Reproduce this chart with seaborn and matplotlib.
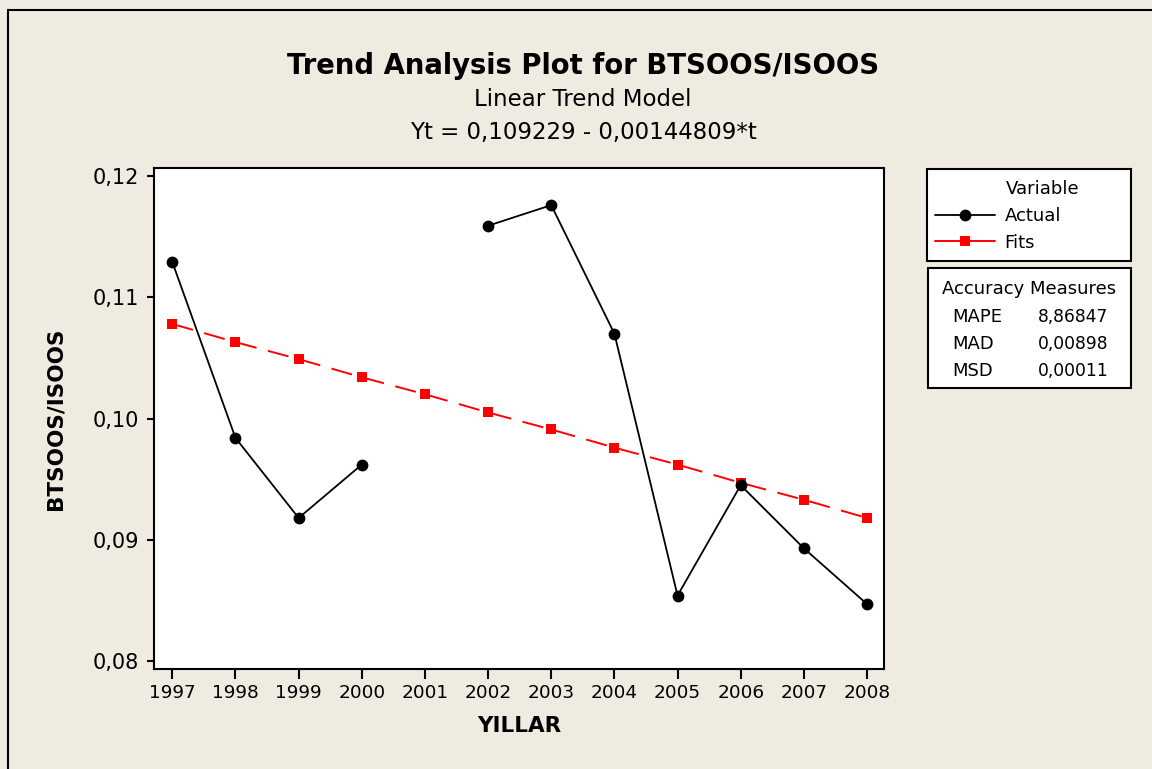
import numpy as np
import pandas as pd
import matplotlib
matplotlib.use('Agg')
import matplotlib.pyplot as plt
import seaborn as sns
from matplotlib.lines import Line2D
from matplotlib.patches import Rectangle

# values
years = [1997, 1998, 1999, 2000, 2001, 2002, 2003, 2004, 2005, 2006, 2007, 2008]
actual = [0.1129, 0.0984, 0.0918, 0.0962, np.nan, 0.1159, 0.1176, 0.1070,
          0.0854, 0.0945, 0.0893, 0.0847]
fits = [0.1078, 0.1063, 0.1049, 0.1034, 0.1020, 0.1005, 0.0991, 0.0976,
        0.0962, 0.0947, 0.0933, 0.0918]
y_ticks = [0.08, 0.09, 0.10, 0.11, 0.12]
y_ticklabels = ['0,08', '0,09', '0,10', '0,11', '0,12']
acc_names = ['MAPE', 'MAD', 'MSD']
acc_values = ['8,86847', '0,00898', '0,00011']

bg = '#EFEBE1'

sns.set_style('white')
plt.rcParams['font.family'] = ['DejaVu Sans']
plt.rcParams['text.color'] = 'black'
plt.rcParams['axes.labelcolor'] = 'black'
plt.rcParams['xtick.color'] = 'black'
plt.rcParams['ytick.color'] = 'black'

df = pd.DataFrame({'year': years, 'actual': actual, 'fits': fits})
# break the actual line where a value is missing
df['seg'] = df['actual'].isna().cumsum()
act = df.dropna(subset=['actual'])

fig = plt.figure(figsize=(11.52, 7.69), dpi=100, facecolor=bg)
ax = fig.add_axes([0.1337, 0.13, 0.6337, 0.6515])
ax.set_facecolor('white')

sns.lineplot(data=df, x='year', y='fits', ax=ax, color='red', lw=1.4,
             marker='s', markersize=7, markeredgewidth=0,
             dashes=False, linestyle=(0, (11, 6)), legend=False)
sns.lineplot(data=act, x='year', y='actual', units='seg', estimator=None,
             ax=ax, color='black', lw=1.3, marker='o', markersize=8.5,
             markeredgewidth=0, legend=False)

ax.set_xlim(1996.71, 2008.27)
ax.set_ylim(0.07934, 0.12066)
ax.set_xticks(years)
ax.set_xticklabels([str(y) for y in years], fontsize=13.3)
ax.set_yticks(y_ticks)
ax.set_yticklabels(y_ticklabels, fontsize=15)
ax.tick_params(axis='x', direction='out', length=7, width=1.5, pad=4)
ax.tick_params(axis='y', direction='out', length=5, width=1.5, pad=6)
ax.tick_params(bottom=True, left=True)
for s in ax.spines.values():
    s.set_color('black')
    s.set_linewidth(1.5)

ax.set_xlabel('YILLAR', fontsize=15.5, fontweight='bold', labelpad=10)
ax.set_ylabel('BTSOOS/ISOOS', fontsize=15.5, fontweight='bold', labelpad=19)

fig.text(0.506, 0.914, 'Trend Analysis Plot for BTSOOS/ISOOS',
         ha='center', va='center', fontsize=19.8, fontweight='bold')
fig.text(0.506, 0.871, 'Linear Trend Model', ha='center', va='center', fontsize=16.5)
fig.text(0.506, 0.828, 'Yt = 0,109229 - 0,00144809*t', ha='center', va='center', fontsize=16.5)

# outer frame (left and top edges)
fig.add_artist(Line2D([8 / 1152, 8 / 1152], [0, 1 - 10 / 769], color='black', lw=1.5,
                      transform=fig.transFigure))
fig.add_artist(Line2D([8 / 1152, 1], [1 - 10 / 769, 1 - 10 / 769], color='black', lw=1.5,
                      transform=fig.transFigure))

# legend box
lx0, lx1 = 927 / 1152, 1131 / 1152
ly0, ly1 = 1 - 261 / 769, 1 - 169 / 769
fig.add_artist(Rectangle((lx0, ly0), lx1 - lx0, ly1 - ly0, transform=fig.transFigure,
                         facecolor='white', edgecolor='black', lw=1.5))
fig.text(1006 / 1152, 1 - 189 / 769, 'Variable', ha='left', va='center', fontsize=13)
handles = [Line2D([], [], color='black', lw=1.3, marker='o', markersize=8.5, markeredgewidth=0),
           Line2D([], [], color='red', lw=1.4, marker='s', markersize=7, markeredgewidth=0)]
leg = fig.legend(handles, ['Actual', 'Fits'], loc='center left',
                 bbox_to_anchor=(935 / 1152, 1 - 229.5 / 769), borderaxespad=0,
                 borderpad=0, frameon=False, fontsize=13,
                 handlelength=3.3, handletextpad=0.55, labelspacing=0.45)

# accuracy measures box
bx0, bx1 = 928 / 1152, 1131 / 1152
by0, by1 = 1 - 388 / 769, 1 - 268 / 769
fig.add_artist(Rectangle((bx0, by0), bx1 - bx0, by1 - by0, transform=fig.transFigure,
                         facecolor='white', edgecolor='black', lw=1.5))
fig.text(1029.5 / 1152, 1 - 289 / 769, 'Accuracy Measures', ha='center', va='center', fontsize=13)
for i, (n, v) in enumerate(zip(acc_names, acc_values)):
    yy = 1 - (317 + 27 * i) / 769
    fig.text(952 / 1152, yy, n, ha='left', va='center', fontsize=13)
    fig.text(1038 / 1152, yy, v, ha='left', va='center', fontsize=12.3)

fig.savefig('out.png', dpi=100, facecolor=bg)
